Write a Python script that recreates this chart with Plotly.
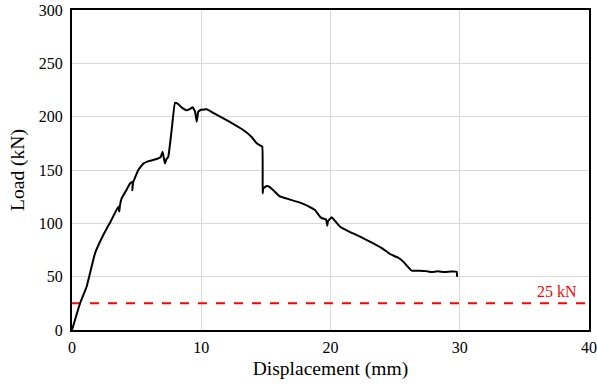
import plotly.graph_objects as go

disp = [0, 0.62, 1.13, 1.78, 2.42, 3.0, 3.58, 3.66, 3.7, 3.84, 4.2, 4.49, 4.69, 4.67, 4.72, 5.13,
        5.52, 6.0, 6.55, 6.85, 7.01, 7.19, 7.3, 7.45, 7.71, 7.97, 8.2, 8.5, 8.87, 9.1, 9.34,
        9.52, 9.65, 9.77, 10.0, 10.42, 11.0, 11.71, 12.5, 13.25, 13.9, 14.29, 14.55, 14.72,
        14.75, 14.8, 15.06, 15.3, 15.58, 16.04, 16.8, 17.64, 18.3, 18.8, 19.19, 19.4, 19.65,
        19.75, 19.8, 20.09, 20.74, 21.4, 22.03, 22.7, 23.31, 24.0, 24.6, 25.2, 25.63, 26.28,
        26.9, 27.4, 27.83, 28.3, 28.8, 29.3, 29.76, 29.79]
load = [0, 25, 40.6, 71.9, 89, 102, 115.6, 111, 116, 123.4, 131, 137.5, 139, 131, 138, 150,
        156, 158.5, 160.3, 162, 167, 156, 160, 162.5, 187.5, 213, 212, 208.5, 206, 207, 208.8,
        204.7, 195.3, 204.7, 206.5, 206.9, 203, 198.4, 193, 187.5, 181, 175, 173, 171.9,
        128, 132.8, 135, 134, 131, 125.6, 122.5, 119.4, 116, 112.5, 106.2, 104.5, 103.8,
        97.8, 102, 105.6, 96.9, 92.5, 89, 85, 81.2, 76.5, 71.25, 68, 64.1, 55.6,
        55.6, 55.2, 54.4, 55, 54.4, 54.8, 54.7, 50]

limit_x = [0, 40]
limit_y = [25, 25]
x_ticks = [0, 10, 20, 30, 40]
y_ticks = [0, 50, 100, 150, 200, 250, 300]

font = "Liberation Serif, Times New Roman, serif"

fig = go.Figure()
fig.add_trace(go.Scatter(x=limit_x, y=limit_y, mode="lines",
                         line=dict(color="#ff0000", width=2, dash="dash"), showlegend=False))
fig.add_trace(go.Scatter(x=disp, y=load, mode="lines",
                         line=dict(color="black", width=2, shape="spline", smoothing=0.3),
                         showlegend=False))

fig.add_annotation(x=40, y=25, xref="x", yref="y", text="25 kN", showarrow=False,
                   xanchor="right", yanchor="bottom", xshift=-10, yshift=1,
                   font=dict(family=font, size=16, color="#ff0000"))

axis_common = dict(showline=True, linecolor="black", linewidth=2, mirror=True,
                   showgrid=True, gridcolor="#d9d9d9", gridwidth=1, zeroline=False,
                   ticks="", automargin=False,
                   tickfont=dict(family=font, size=16, color="black"))

fig.update_xaxes(range=[0, 40], tickvals=x_ticks, ticklabelstandoff=2,
                 title=dict(text="Displacement (mm)", font=dict(family=font, size=19.5, color="black"), standoff=6),
                 **axis_common)
fig.update_yaxes(range=[0, 300], tickvals=y_ticks, ticklabelstandoff=4,
                 title=dict(text="Load (kN)", font=dict(family=font, size=19.5, color="black"), standoff=9),
                 **axis_common)

fig.update_layout(width=597, height=386, margin=dict(l=72, r=8, t=10, b=56),
                  plot_bgcolor="white", paper_bgcolor="white",
                  font=dict(family=font, color="black"))

fig.write_html("out.html")
